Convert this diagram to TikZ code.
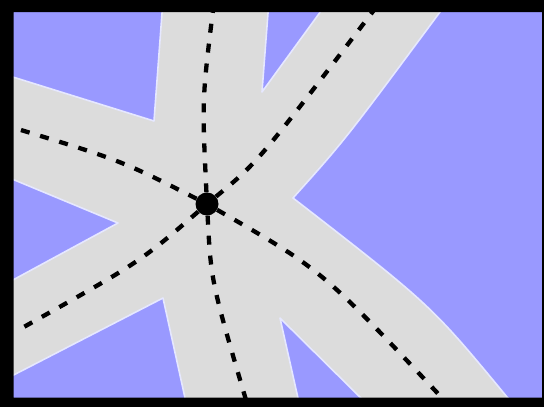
\documentclass[tikz,border=0pt]{standalone}
\usepackage{tikz}
\definecolor{lakeblue}{HTML}{9999FF}
\definecolor{roadgray}{HTML}{DCDCDC}
\definecolor{shoreline}{HTML}{E6E8FF}

\begin{document}
\begin{tikzpicture}[x=1pt, y=-1pt,
  field/.style={fill=lakeblue, draw=shoreline, line width=1.6pt, line join=round},
  lane/.style={draw=black, line width=4.3pt, dash pattern=on 9pt off 11pt},
  hub/.style={circle, fill=black, minimum size=23pt, inner sep=0pt}
]
  \useasboundingbox (0,0) rectangle (544,407);
  \fill[roadgray] (0,0) rectangle (544,407);

  \path[field] (0,0) -- (163,0) -- (154,121) -- (0,73) -- cycle;
  \path[field] (269,0) -- (329,0) -- (262,92) -- cycle;
  \path[field] (448,0) -- (544,0) -- (544,407) -- (516,407) -- (507,397)
    .. controls (431,305) .. (293,198) .. controls (345,140) .. (440,12) -- cycle;
  \path[field] (0,174) -- (118,223) -- (0,287) -- cycle;
  \path[field] (0,382) -- (163,298) -- (187,407) -- (0,407) -- cycle;
  \path[field] (280,318) -- (300,407) -- (370,407) -- cycle;

  \coordinate (north) at (213,10);
  \coordinate (northeast) at (374,10);
  \coordinate (west) at (11,127);
  \coordinate (southwest) at (22,328);
  \coordinate (south) at (246,400);
  \coordinate (southeast) at (444,400);

  \node[hub] (junction) at (207,204) {};

  \draw[lane] (junction) .. controls (202,100) .. (north);
  \draw[lane] (junction) .. controls (258,162) .. (northeast);
  \draw[lane] (junction) .. controls (120,160) .. (west);
  \draw[lane] (junction) .. controls (140,262) .. (southwest);
  \draw[lane] (junction) .. controls (211,281) .. (south);
  \draw[lane] (junction) .. controls (322,270) .. (southeast);

  \fill[black, even odd rule] (0,0) rectangle (544,407) (13.5,12) rectangle (542,397.5);
\end{tikzpicture}
\end{document}
